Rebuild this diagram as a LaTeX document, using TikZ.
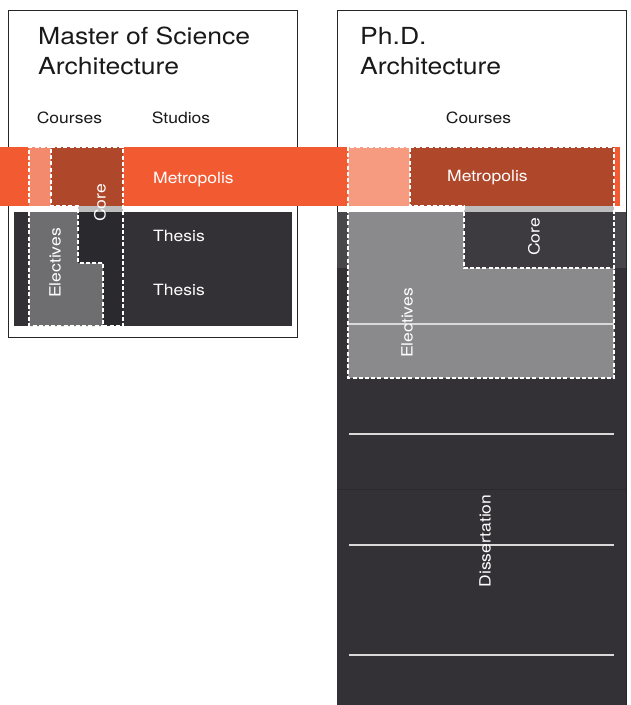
\documentclass[tikz,border=0pt]{standalone}
\usepackage{fontspec}
\setmainfont[FakeStretch=1.13]{TeX Gyre Heros}
\usepackage{xcolor}
\definecolor{band}{HTML}{F25B32}
\definecolor{bandcore}{HTML}{AF472B}
\definecolor{bandelecl}{HTML}{F48A6D}
\definecolor{bandelecr}{HTML}{F69B80}
\definecolor{slate}{HTML}{333136}
\definecolor{slatelight}{HTML}{47464A}
\definecolor{slatedeep}{HTML}{2A292D}
\definecolor{elecl}{HTML}{6E6D70}
\definecolor{elecr}{HTML}{8A898B}
\definecolor{strip}{HTML}{BDBDBD}
\begin{document}
\begin{tikzpicture}[x=1pt, y=-1pt,
    frame/.style={draw=black!85, line width=0.9pt},
    zone/.style={draw=white, line width=1.1pt, dash pattern=on 4pt off 2.2pt},
    rule/.style={draw=white!85!black, line width=1.2pt},
    title/.style={inner sep=0pt, anchor=base west, text=black!90, font=\fontsize{23.5}{30}\selectfont},
    head/.style={inner sep=0pt, anchor=base, text=black!90, font=\fontsize{15.5}{18}\selectfont},
    lab/.style={inner sep=0pt, anchor=base west, text=white, font=\fontsize{15.5}{18}\selectfont},
    vlab/.style={inner sep=0pt, rotate=90, text=white, font=\fontsize{15.5}{18}\selectfont}]
    \useasboundingbox[fill=white] (0,0) rectangle (630,705);

    \draw[frame] (8,10) rectangle (297,337);
    \draw[frame] (337,10) rectangle (626,712);

    \fill[slate] (14,212) rectangle (292,326);
    \fill[slate] (337,212) rectangle (626,705);
    \fill[slatelight] (337,212) rectangle (626,268);
    \draw[slatedeep, line width=0.8pt] (337,489) -- (626,489);

    \fill[band] (0,147) rectangle (620,206);

    \fill[bandelecl] (29,147) rectangle (51,206);
    \fill[bandcore] (51,147) rectangle (123,206);
    \fill[strip] (78,206) rectangle (123,212);
    \fill[elecl] (29,212) -- (78,212) -- (78,263) -- (103,263) -- (103,326) -- (29,326) -- cycle;
    \fill[slatedeep] (78,212) rectangle (123,263);
    \fill[slatedeep] (103,263) rectangle (123,326);

    \fill[bandelecr] (348,147) rectangle (410,206);
    \fill[bandcore] (410,147) rectangle (614,206);
    \fill[strip] (464,206) rectangle (614,212);
    \fill[elecr] (348,212) -- (464,212) -- (464,268) -- (614,268) -- (614,378) -- (348,378) -- cycle;
    \fill[slate!95!white] (464,212) rectangle (614,268);

    \draw[rule] (348,324) -- (614,324);
    \draw[rule] (349,434) -- (614,434);
    \draw[rule] (349,545) -- (614,545);
    \draw[rule] (349,655) -- (614,655);

    \draw[zone] (51,147) -- (123,147) -- (123,326) -- (103,326) -- (103,263) -- (78,263) -- (78,206) -- (51,206) -- cycle;
    \draw[zone] (51,147) -- (29,147) -- (29,326) -- (103,326);
    \draw[zone] (410,147) -- (614,147) -- (614,268) -- (464,268) -- (464,206) -- (410,206) -- cycle;
    \draw[zone] (410,147) -- (348,147) -- (348,378) -- (614,378) -- (614,268);

    \node[title] (msline1) at (38,44) {Master of Science};
    \node[title] (msline2) at (38,74) {Architecture};
    \node[title] (phdline1) at (360,44) {Ph.D.};
    \node[title] (phdline2) at (360,74) {Architecture};

    \node[head] (mscourses) at (69.5,123) {Courses};
    \node[head] (msstudios) at (181,123) {Studios};
    \node[head] (phdcourses) at (478.5,123) {Courses};

    \node[lab] (msmetro) at (153,183) {Metropolis};
    \node[lab] (msthesis1) at (153,241.5) {Thesis};
    \node[lab] (msthesis2) at (153,295.5) {Thesis};
    \node[lab] (phdmetro) at (447,181.5) {Metropolis};

    \node[vlab] (mscore) at (100,203) {Core};
    \node[vlab] (mselec) at (55,263) {Electives};
    \node[vlab] (phdcore) at (534,237) {Core};
    \node[vlab] (phdelec) at (407,323) {Electives};
    \node[vlab] (phddiss) at (485,541) {Dissertation};
\end{tikzpicture}
\end{document}
